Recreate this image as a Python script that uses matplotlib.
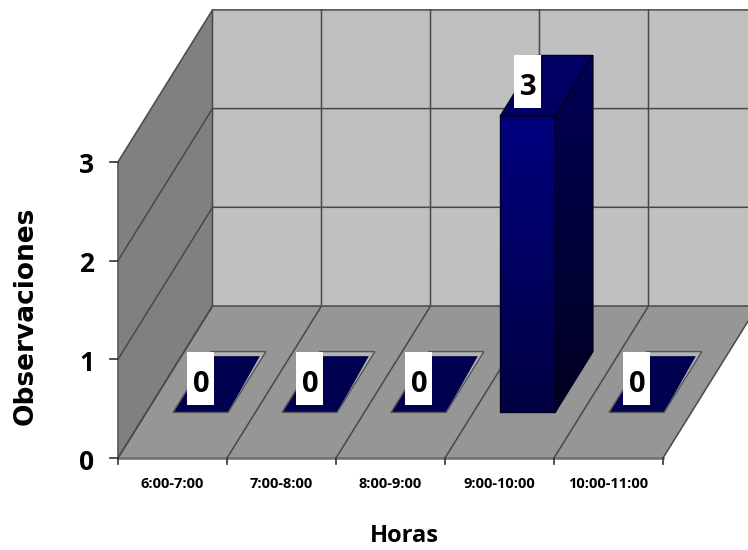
import numpy as np
import matplotlib
matplotlib.use("Agg")
import matplotlib.pyplot as plt
from matplotlib.patches import Polygon, Rectangle

horas = ["6:00-7:00", "7:00-8:00", "8:00-9:00", "9:00-10:00", "10:00-11:00"]
observaciones = [0, 0, 0, 3, 0]
y_ticks = [0, 1, 2, 3]

# projection of the 3d box, in pixels
X0, Y0 = 118, 458
CAT_W = 109
UNIT_H = 98.7
DEPTH_X, DEPTH_Y = 94.5, -152
BAR_OFF, BAR_W = 0.245, 0.505
BAR_D0, BAR_D1 = 0.30, 0.70
BOX_W, BOX_H = 27, 53
NARROW = ["Open Sans", "DejaVu Sans"]


def proj(cat, val, depth):
    return (X0 + cat * CAT_W + depth * DEPTH_X, Y0 - val * UNIT_H + depth * DEPTH_Y)


fig = plt.figure(figsize=(7.48, 5.5), dpi=100, facecolor="white")
ax = fig.add_axes([0, 0, 1, 1])
ax.set_xlim(0, 748)
ax.set_ylim(550, 0)
ax.axis("off")

n = len(horas)
top = 3.0
GRID = "#484848"


def face(pts, color, z):
    ax.add_patch(Polygon(pts, closed=True, fc=color, ec="none", zorder=z))


def grad_face(pts, c1, c2, z):
    # vertical gradient clipped to a polygon
    xs = [p[0] for p in pts]
    ys = [p[1] for p in pts]
    g = np.linspace(0, 1, 64)[:, None, None]
    img = np.array(c1)[None, None, :] * (1 - g) + np.array(c2)[None, None, :] * g
    im = ax.imshow(img, extent=[min(xs), max(xs), max(ys), min(ys)], aspect="auto", zorder=z)
    clip = Polygon(pts, closed=True, transform=ax.transData, fc="none", ec="none")
    ax.add_patch(clip)
    im.set_clip_path(clip)


# walls and floor
face([proj(0, 0, 1), proj(n + 1, 0, 1), proj(n + 1, top, 1), proj(0, top, 1)], "#c0c0c0", 1)
face([proj(0, 0, 0), proj(0, 0, 1), proj(0, top, 1), proj(0, top, 0)], "#808080", 1)
face([proj(0, 0, 0), proj(n, 0, 0), proj(n, 0, 1), proj(0, 0, 1)], "#969696", 1)

# grid
for v in y_ticks:
    a, b = proj(0, v, 0), proj(0, v, 1)
    c = proj(n + 1, v, 1)
    ax.plot([a[0], b[0], c[0]], [a[1], b[1], c[1]], color=GRID, lw=1.1, zorder=2)
for i in range(n + 1):
    a, b, c = proj(i, 0, 0), proj(i, 0, 1), proj(i, top, 1)
    ax.plot([a[0], b[0], c[0]], [a[1], b[1], c[1]], color=GRID, lw=1.1, zorder=2)
a, b = proj(0, 0, 0), proj(n, 0, 0)
ax.plot([a[0], b[0]], [a[1], b[1]], color="#6e6e6e", lw=1.8, zorder=2)
a, b = proj(0, 0, 0), proj(0, top, 0)
ax.plot([a[0], b[0]], [a[1], b[1]], color="#5a5a5a", lw=1.2, zorder=2)

# bars
for i, v in enumerate(observaciones):
    x0, x1 = i + BAR_OFF, i + BAR_OFF + BAR_W
    if v == 0:
        face([proj(x0, 0, BAR_D0), proj(x1, 0, BAR_D0), proj(x1, 0, BAR_D1), proj(x0, 0, BAR_D1)], "#b4b4b4", 3)
        face([proj(x0, 0, BAR_D0), proj(x1, 0, BAR_D0), proj(x1 - 0.03, 0, BAR_D1 - 0.03), proj(x0, 0, BAR_D1 - 0.03)], "#000050", 3.1)
        pts = [proj(x0, 0, BAR_D0), proj(x1, 0, BAR_D0), proj(x1, 0, BAR_D1), proj(x0, 0, BAR_D1)]
        ax.add_patch(Polygon(pts, closed=True, fc="none", ec="#555555", lw=1, zorder=3.2))
    else:
        front = [proj(x0, 0, BAR_D0), proj(x1, 0, BAR_D0), proj(x1, v, BAR_D0), proj(x0, v, BAR_D0)]
        side = [proj(x1, 0, BAR_D0), proj(x1, 0, BAR_D1), proj(x1, v, BAR_D1), proj(x1, v, BAR_D0)]
        cap = [proj(x0, v, BAR_D0), proj(x1, v, BAR_D0), proj(x1, v, BAR_D1), proj(x0, v, BAR_D1)]
        grad_face(front, (0, 0, 0.50), (0, 0, 0.26), 3)
        grad_face(side, (0, 0, 0.34), (0, 0, 0.13), 3)
        face(cap, "#000062", 3)
        for pts in (front, side, cap):
            ax.add_patch(Polygon(pts, closed=True, fc="none", ec="#000020", lw=1, zorder=3.2))

# data labels
for i, v in enumerate(observaciones):
    px, py = proj(i + 0.3, v, 0.526)
    ax.add_patch(Rectangle((px - BOX_W / 2, py - BOX_H / 2), BOX_W, BOX_H, fc="white", ec="none", zorder=4))
    ax.text(px + 1, py + 6, str(v), ha="center", va="center", fontsize=21, fontweight="bold",
            family=NARROW, color="black", zorder=5)

# ticks
for v in y_ticks:
    a = proj(0, v, 0)
    ax.plot([a[0] - 8, a[0]], [a[1], a[1]], color="#333333", lw=1.2, zorder=2)
    ax.text(a[0] - 31, a[1] + 4, str(v), ha="center", va="center", fontsize=19, fontweight="bold",
            family=NARROW)
for i in range(n + 1):
    a = proj(i, 0, 0)
    ax.plot([a[0], a[0]], [a[1], a[1] + 6], color="#333333", lw=1.2, zorder=2)
for i, lab in enumerate(horas):
    a = proj(i + 0.5, 0, 0)
    ax.text(a[0], 484, lab, ha="center", va="center", fontsize=10.5, fontweight="bold",
            family=NARROW)

ax.text(404, 536, "Horas", ha="center", va="center", fontsize=17, fontweight="bold",
        family=NARROW)
ax.text(26, 316, "Observaciones", ha="center", va="center", rotation=90, fontsize=19,
        fontweight="bold", family=["DejaVu Sans"])

fig.savefig("out.png", dpi=100, facecolor="white")
